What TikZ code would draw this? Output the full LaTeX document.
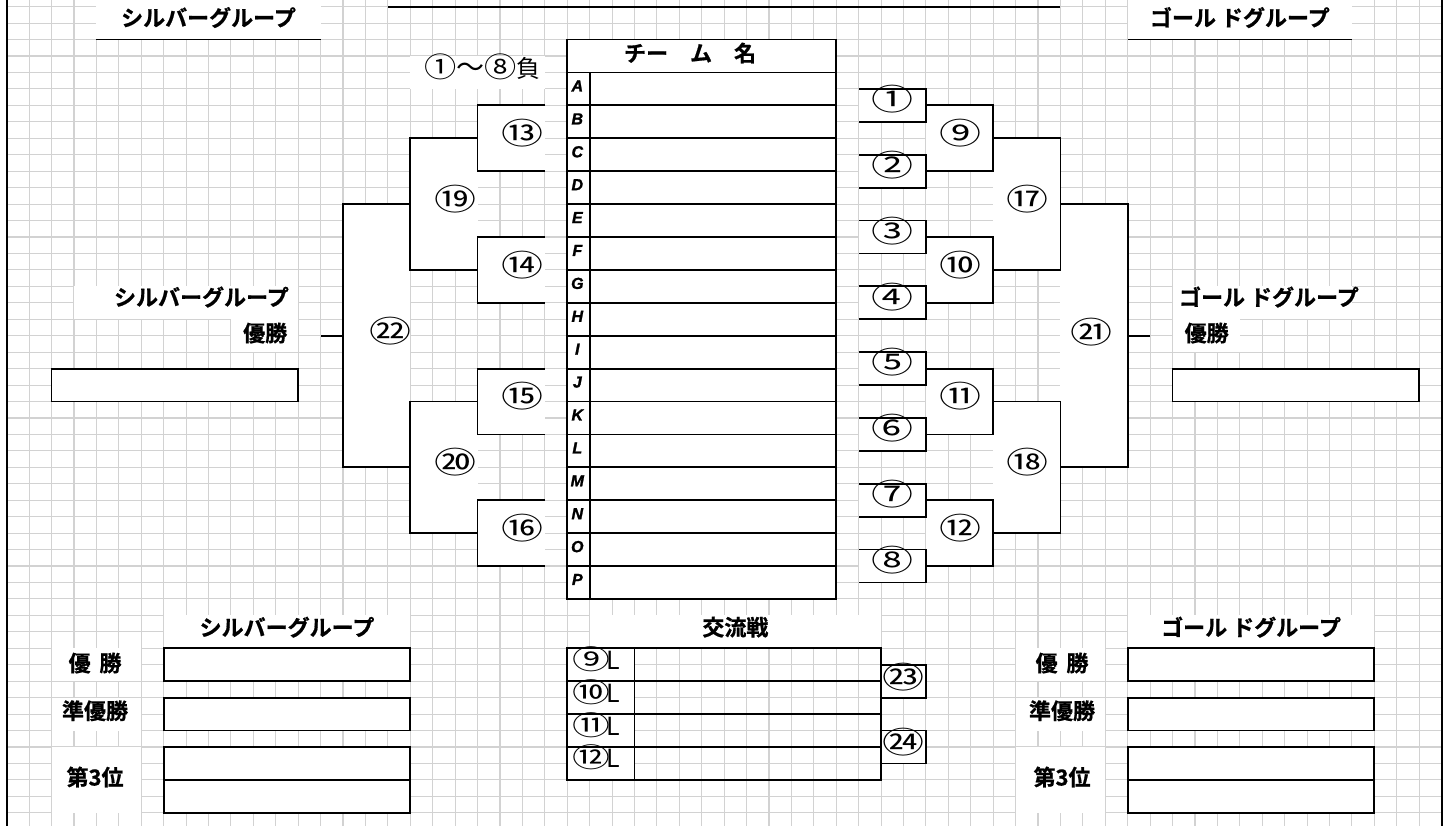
\documentclass[tikz,border=0pt]{standalone}
\usepackage{fontspec}
\newfontfamily\jpfont{Noto Sans CJK JP}[BoldFont={Noto Sans CJK JP Bold},BoldFeatures={FakeBold=0.8}]
\newfontfamily\numfont{Noto Sans CJK JP}[FakeStretch=1.4]
\newfontfamily\lossfont{Noto Sans CJK JP}[FakeStretch=1.15]
\newfontfamily\letfont{Liberation Sans}[BoldItalicFeatures={FakeBold=1.5}]
\begin{document}
\begin{tikzpicture}[x=22.42pt,y=-16.45pt,line width=1.8pt,
  gridln/.style={line width=1.1pt,gray!35},
  ttl/.style={font=\jpfont\bfseries\fontsize{22}{24}\selectfont,inner sep=0pt},
  num/.style={font=\numfont\fontsize{30}{32}\selectfont,inner sep=0pt},
  letter/.style={font=\letfont\bfseries\itshape\fontsize{16}{18}\selectfont,inner sep=0pt}]
\useasboundingbox (-0.299,-0.407) rectangle (64.375,49.805);
\fill[white] (-0.299,-0.407) rectangle (64.375,49.805);
\foreach \i in {0,...,64} \draw[gridln] (\i,-0.407) -- (\i,49.805);
\foreach \j in {0,...,49} \draw[gridln] (0,\j) -- (64,\j);
% cells that hide the sheet grid
\foreach \a/\b/\c/\d in {4/-0.407/14/2, 50/-0.407/60/2, 18/3/24/5, 25/2/37/36,
  18/8/21/16, 18/24/21/32, 15/12/18/28, 44/8/47/16, 44/24/47/32, 47/12/50/28,
  2/22/13/24, 52/22/63/24, 3/17/13/19, 10/19/13/21, 52/17/60/19, 52/19/55/21,
  7/37/18/41, 7/42/18/44, 7/45/18/49, 50/37/61/41, 50/42/61/44, 50/45/61/49,
  2/39/6/41, 2/42/6/44, 2/45/6/49, 45/39/49/41, 45/42/49/44, 45/45/49/49,
  26/37/39/39, 25/39/28/47, 39/40/41/42, 39/44/41/46}
  \fill[white] (\a,\b) rectangle (\c,\d);
\foreach \k in {0,...,3} {
  \fill[white] (21,6+8*\k) rectangle (24,10+8*\k);
  \fill[white] (41,6+8*\k) rectangle (44,10+8*\k);
}
\foreach \k in {0,...,7} \fill[white] (38,5+4*\k) rectangle (41,7+4*\k);
\draw (0,-0.407) -- (0,49.805) (64,-0.407) -- (64,49.805);
\draw (17,0) -- (47,0) (4,2) -- (14,2) (50,2) -- (60,2);
\draw (25,2) rectangle (37,36) (25,4) -- (37,4) (26,4) -- (26,36);
\foreach \j in {6,8,...,34} \draw (25,\j) -- (37,\j);
\foreach \k in {0,...,3} {
  \draw (24,6+8*\k) -| (21,10+8*\k) -- (24,10+8*\k);
  \draw (41,6+8*\k) -| (44,10+8*\k) -- (41,10+8*\k);
}
\foreach \k in {0,...,7} \draw (38,5+4*\k) -| (41,7+4*\k) -- (38,7+4*\k);
\foreach \k in {0,1} {
  \draw (21,8+16*\k) -| (18,16+16*\k) -- (21,16+16*\k);
  \draw (44,8+16*\k) -| (47,16+16*\k) -- (44,16+16*\k);
}
\draw (18,12) -| (15,28) -- (18,28) (15,20) -- (14,20);
\draw (47,12) -| (50,28) -- (47,28) (50,20) -- (51,20);
\draw (2,22) rectangle (13,24) (52,22) rectangle (63,24);
\foreach \x in {7,50}
  \draw (\x,39) rectangle ++(11,2) (\x,42) rectangle ++(11,2)
        (\x,45) rectangle ++(11,4) (\x,47) -- ++(11,0);
\draw (25,39) rectangle (39,47) (28,39) -- (28,47);
\foreach \j in {41,43,45} \draw (25,\j) -- (39,\j);
\draw (39,40) -| (41,42) -- (39,42) (39,44) -| (41,46) -- (39,46);
\node[ttl] (silvertop) at (9,.66) {シルバーグループ};
\node[ttl] (goldtop) at (55,.66) {ゴール ドグループ};
\node[font=\jpfont\fontsize{24}{26}\selectfont,inner sep=0pt] (losers) at (21.21,3.67)
  {{\lossfont\fontsize{28}{30}\selectfont ①}{\fontsize{28}{30}\selectfont ～}{\lossfont\fontsize{28}{30}\selectfont ⑧}負};
\node[ttl] (teamhead) at (30.48,2.82) {チー　ム　名};
\foreach \l [count=\k from 0] in {A,...,P}
  \node[letter] (row\l) at (25.45,4.82+2*\k) {\l};
\foreach \lab/\m [count=\k from 0] in {⑬/13,⑭/14,⑮/15,⑯/16}
  \node[num] (m\m) at (23,7.68+8*\k) {\lab};
\foreach \lab/\m [count=\k from 0] in {⑨/9,⑩/10,⑪/11,⑫/12}
  \node[num] (m\m) at (42.52,7.68+8*\k) {\lab};
\foreach \lab/\m [count=\k from 0] in {①/1,②/2,③/3,④/4,⑤/5,⑥/6,⑦/7,⑧/8}
  \node[num] (m\m) at (39.5,5.63+4*\k) {\lab};
\foreach \lab/\m [count=\k from 0] in {⑲/19,⑳/20}
  \node[num] (m\m) at (20,11.69+16*\k) {\lab};
\foreach \lab/\m [count=\k from 0] in {⑰/17,⑱/18}
  \node[num] (m\m) at (45.53,11.69+16*\k) {\lab};
\node[num] (m22) at (17.1,19.71) {㉒};
\node[num] (m21) at (48.4,19.76) {㉑};
\node[ttl,anchor=east] (silverlab) at (12.62,17.65) {シルバーグループ};
\node[ttl,anchor=east] (silverwin) at (12.55,19.84) {優勝};
\node[ttl,anchor=west] (goldlab) at (52.25,17.65) {ゴール ドグループ};
\node[ttl,anchor=west] (goldwin) at (52.5,19.84) {優勝};
\node[ttl] (silverres) at (12.5,37.72) {シルバーグループ};
\node[ttl] (crossres) at (32.5,37.72) {交流戦};
\node[ttl] (goldres) at (55.5,37.72) {ゴール ドグループ};
\foreach \x/\g in {3.94/s,47.07/g} {
  \node[ttl] (\g first) at (\x,39.9) {優\hspace{.4em}勝};
  \node[ttl] (\g second) at (\x,42.8) {準優勝};
  \node[ttl] (\g third) at (\x,46.83) {第3位};
}
\foreach \lab/\m [count=\k from 0] in {⑨/9,⑩/10,⑪/11,⑫/12}
  \node[font=\numfont\fontsize{27}{29}\selectfont,inner sep=0pt] (loser\m) at (26.3,39.65+2*\k)
    {\lab\kern-4pt{\jpfont\fontsize{25}{27}\selectfont L}};
\node[num] (m23) at (40.02,40.73) {㉓};
\node[num] (m24) at (40.02,44.7) {㉔};
\end{tikzpicture}
\end{document}
